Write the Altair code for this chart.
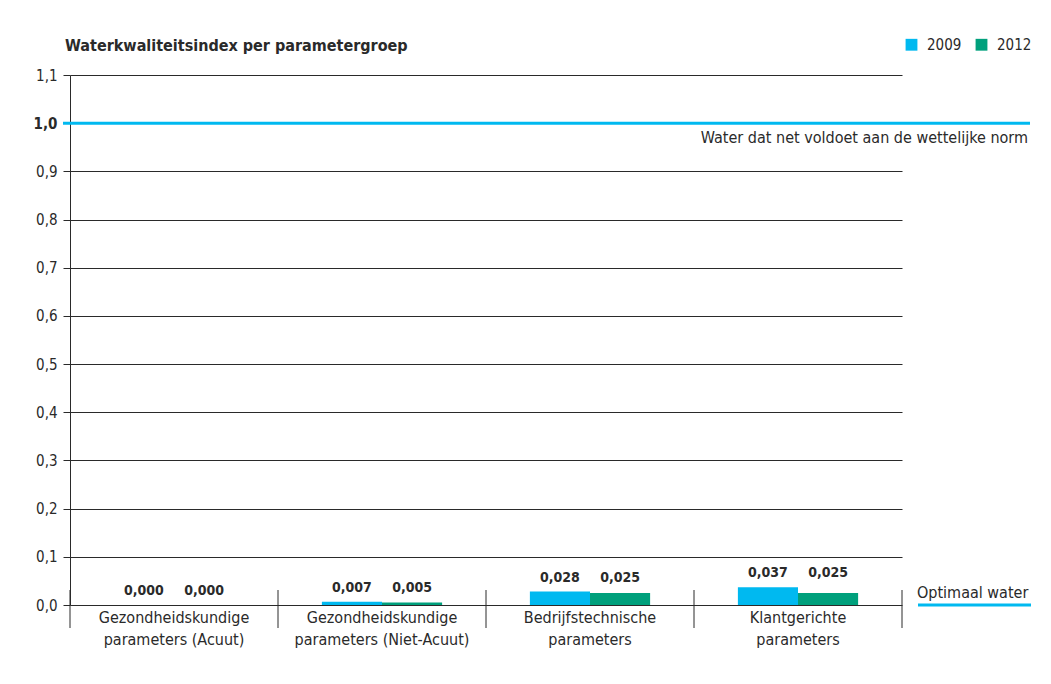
import altair as alt
import pandas as pd

# ---- data ----
categories = [
    "Gezondheidskundige\nparameters (Acuut)",
    "Gezondheidskundige\nparameters (Niet-Acuut)",
    "Bedrijfstechnische\nparameters",
    "Klantgerichte\nparameters",
]
years = ["2009", "2012"]
values_2009 = [0.000, 0.007, 0.028, 0.037]
values_2012 = [0.000, 0.005, 0.025, 0.025]
y_ticks = [0.0, 0.1, 0.2, 0.3, 0.4, 0.5, 0.6, 0.7, 0.8, 0.9, 1.0, 1.1]
norm_value = 1.0
title_text = "Waterkwaliteitsindex per parametergroep"
norm_text = "Water dat net voldoet aan de wettelijke norm"
optimal_text = "Optimaal water"

BLUE = "#00b9f0"
GREEN = "#00a07c"
INK = "#2a2a2a"
FONT = "Liberation Sans Narrow, Arial Narrow, DejaVu Sans Condensed, sans-serif"

rows = []
for i, c in enumerate(categories):
    gmax = max(values_2009[i], values_2012[i])
    for y, vals in zip(years, [values_2009, values_2012]):
        v = vals[i]
        rows.append({"cat": c, "year": y, "value": v, "gmax": gmax,
                     "label": f"{v:.3f}".replace(".", ",")})
df = pd.DataFrame(rows)

x_enc = alt.X(
    "cat:N", sort=categories,
    scale=alt.Scale(paddingInner=0, paddingOuter=0),
    axis=alt.Axis(title=None, domain=False, ticks=False, labelAngle=0,
                  labelExpr="split(datum.label, '\\n')",
                  labelPadding=4, labelFontSize=16, labelLineHeight=22,
                  labelColor=INK, labelFont=FONT, labelLimit=300),
)
xoff = alt.XOffset("year:N", sort=years,
                   scale=alt.Scale(paddingOuter=0.73, paddingInner=0))
y_scale = alt.Scale(domain=[0, 1.1], nice=False)

bars = alt.Chart(df).mark_bar().encode(
    x=x_enc,
    xOffset=xoff,
    y=alt.Y("value:Q", scale=y_scale,
            axis=alt.Axis(
                title=None, values=y_ticks,
                labelExpr="replace(format(datum.value, '.1f'), '.', ',')",
                tickSize=7, tickColor=INK, gridColor=INK, domainColor=INK,
                gridWidth=1, labelFontSize=15, labelPadding=6,
                labelColor=INK, labelFont=FONT,
                labelFontWeight={"condition": {"test": "abs(datum.value - 1) < 0.001",
                                               "value": "bold"},
                                 "value": "normal"},
            )),
    color=alt.Color("year:N", sort=years,
                    scale=alt.Scale(domain=years, range=[BLUE, GREEN]),
                    legend=alt.Legend(orient="none", legendX=834, legendY=-38,
                                      direction="horizontal", title=None,
                                      symbolType="square", symbolSize=140,
                                      symbolStrokeWidth=0, labelFontSize=15,
                                      labelFont=FONT, labelColor=INK,
                                      columnPadding=12, labelOffset=8)),
)

labels = alt.Chart(df).mark_text(
    fontWeight="bold", fontSize=14, font=FONT, color=INK, dy=-14, baseline="middle"
).encode(
    x=alt.X("cat:N", sort=categories),
    xOffset=xoff,
    y=alt.Y("gmax:Q", scale=y_scale),
    text="label:N",
)

sep_df = pd.DataFrame({"cat": categories})
seps_left = alt.Chart(sep_df).mark_rule(color=INK, strokeWidth=1).encode(
    x=alt.X("cat:N", sort=categories, bandPosition=0),
    y=alt.value(515), y2=alt.value(553),
)
seps_right = alt.Chart(sep_df.tail(1)).mark_rule(color=INK, strokeWidth=1).encode(
    x=alt.X("cat:N", sort=categories, bandPosition=1),
    y=alt.value(515), y2=alt.value(553),
)

norm_df = pd.DataFrame({"v": [norm_value], "t": [norm_text]})
norm_rule = alt.Chart(norm_df).mark_rule(color=BLUE, strokeWidth=3).encode(
    y=alt.Y("v:Q", scale=y_scale), x=alt.value(-7), x2=alt.value(960),
)
norm_label = alt.Chart(norm_df).mark_text(
    align="right", baseline="middle", fontSize=16, font=FONT, color=INK, dy=15
).encode(y=alt.Y("v:Q", scale=y_scale), x=alt.value(958), text="t:N")

opt_df = pd.DataFrame({"v": [0.0], "t": [optimal_text]})
opt_rule = alt.Chart(opt_df).mark_rule(color=BLUE, strokeWidth=3).encode(
    y=alt.Y("v:Q", scale=y_scale), x=alt.value(848), x2=alt.value(961),
)
opt_label = alt.Chart(opt_df).mark_text(
    align="left", baseline="middle", fontSize=16, font=FONT, color=INK, dy=-12
).encode(y=alt.Y("v:Q", scale=y_scale), x=alt.value(847), text="t:N")

title = alt.Chart(pd.DataFrame({"t": [title_text]})).mark_text(
    align="left", baseline="middle", fontSize=16, fontWeight="bold", font=FONT, color=INK
).encode(x=alt.value(-5), y=alt.value(-29), text="t:N")

chart = alt.layer(
    bars, labels, seps_left, seps_right, norm_rule, norm_label, opt_rule, opt_label, title
).properties(
    width=832, height=530,
    autosize=alt.AutoSizeParams(type="none"),
    padding={"left": 62, "top": 67, "right": 141, "bottom": 71},
    background="white",
).configure_view(stroke=None)

chart.save("out.html", embed_options={"renderer": "svg", "actions": False})
